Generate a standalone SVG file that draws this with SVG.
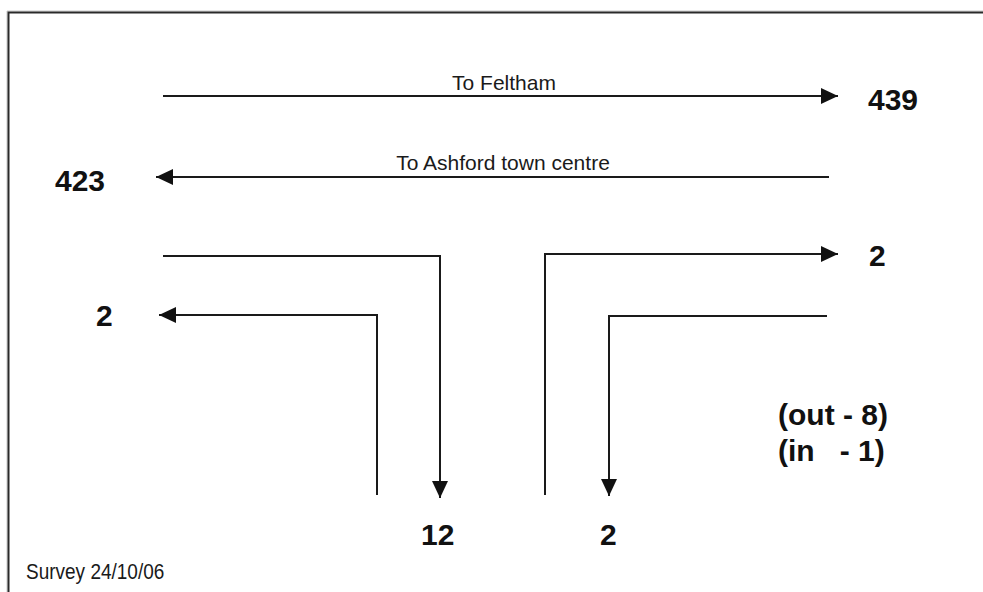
<svg xmlns="http://www.w3.org/2000/svg" width="983" height="592" viewBox="0 0 983 592">
  <style>
    .route { fill: none; stroke: #1a1a1a; stroke-width: 2; }
    .lbl { font-family: "Liberation Sans", Arial, sans-serif; font-size: 21px; fill: #1a1a1a; }
    .small { font-size: 19px; }
    .count { font-family: "Liberation Sans", Arial, sans-serif; font-size: 30px; font-weight: bold; fill: #111; }
  </style>
  <defs>
    <marker id="arrow" viewBox="0 0 17 16" refX="17" refY="8" markerWidth="17" markerHeight="16" markerUnits="userSpaceOnUse" orient="auto">
      <path d="M0,0 L17,8 L0,16 Z" fill="#111"/>
    </marker>
  </defs>

  <rect x="0" y="0" width="983" height="592" fill="#ffffff"/>

  <!-- frame (runs off the right and bottom edges) -->
  <g id="frame">
    <path d="M7,600 V11 H990" fill="none" stroke="#c8c8c8" stroke-width="1"/>
    <path d="M8.5,600 V12.5 H990" fill="none" stroke="#2a2a2a" stroke-width="2"/>
  </g>

  <g id="connectors">
    <!-- main road, eastbound -->
    <path id="to-feltham" class="route" d="M163,96 H838" marker-end="url(#arrow)"/>
    <!-- main road, westbound -->
    <path id="to-ashford" class="route" d="M829,177 H156" marker-end="url(#arrow)"/>
    <!-- from west, turning into side road -->
    <path id="west-in" class="route" d="M163,256 H440 V498" marker-end="url(#arrow)"/>
    <!-- out of side road, turning west -->
    <path id="side-west" class="route" d="M377,495 V315 H159" marker-end="url(#arrow)"/>
    <!-- out of side road, turning east -->
    <path id="side-east" class="route" d="M545,495 V254 H838" marker-end="url(#arrow)"/>
    <!-- from east, turning into side road -->
    <path id="east-in" class="route" d="M827,316 H609 V496" marker-end="url(#arrow)"/>
  </g>

  <g id="label-feltham">
    <text class="lbl" x="504" y="90" text-anchor="middle">To Feltham</text>
  </g>
  <g id="label-ashford">
    <text class="lbl" x="503" y="170" text-anchor="middle">To Ashford town centre</text>
  </g>

  <g id="count-439"><text class="count" x="868" y="110">439</text></g>
  <g id="count-423"><text class="count" x="55" y="191">423</text></g>
  <g id="count-east-2"><text class="count" x="869" y="266">2</text></g>
  <g id="count-west-2"><text class="count" x="96" y="326">2</text></g>
  <g id="count-12"><text class="count" x="421" y="545">12</text></g>
  <g id="count-side-2"><text class="count" x="600" y="545">2</text></g>

  <g id="note-out-in">
    <text class="count" x="778" y="425" xml:space="preserve">(out - 8)</text>
    <text class="count" x="778" y="461" xml:space="preserve">(in   - 1)</text>
  </g>

  <!-- date line, set slightly tall and narrow -->
  <g id="survey-date" transform="translate(26,579) scale(1,1.15)">
    <text class="lbl small" x="0" y="0">Survey 24/10/06</text>
  </g>
</svg>
